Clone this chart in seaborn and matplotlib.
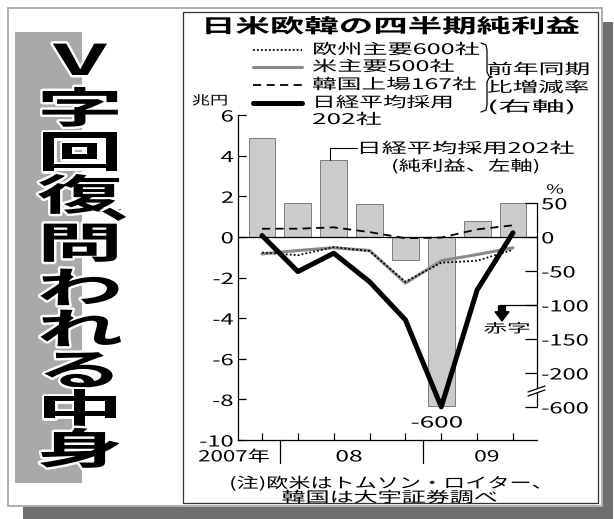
import numpy as np
import matplotlib
matplotlib.use("Agg")
import matplotlib.pyplot as plt
import seaborn as sns
from matplotlib.patches import Rectangle
from matplotlib.patheffects import AbstractPathEffect
from matplotlib.transforms import Affine2D

# 四半期（2007年10-12月期〜09年7-9月期）
QUARTERS = ["07/4Q", "08/1Q", "08/2Q", "08/3Q", "08/4Q", "09/1Q", "09/2Q", "09/3Q"]
# 日経平均採用202社の純利益（兆円、左軸）
PROFIT = [4.85, 1.67, 3.78, 1.6, -1.12, -8.35, 0.8, 1.68]
# 前年同期比増減率（%、右軸）
RATE_EU = [-23, -27, -15, -21, -66, -38, -35, -19]
RATE_US = [-25, -20, -16, -20, -68, -35, -26, -16]
RATE_KR = [12, 12, 14, 7, -2, -1, 11, 17]
RATE_NK = [2, -51, -24, -66, -122, -600, -78, 6]

LEFT_TICKS = [6, 4, 2, 0, -2, -4, -6, -8, -10]
RIGHT_TICKS = [50, 0, -50, -100, -150, -200, -600]
YEARS = ["2007年", "08", "09"]

TITLE = "日米欧韓の四半期純利益"
HEADLINE = "V字回復問われる中身"
LEGEND = ["欧州主要600社", "米主要500社", "韓国上場167社", "日経平均採用"]

W, H = 614, 519

# 右軸: -200%までは等間隔、-200〜-600は圧縮（軸の省略）
K1 = 29.85
K2 = 239.5


def pct_to_left(p):
    p = np.asarray(p, dtype=float)
    return np.where(p >= -200, p / K1, -200 / K1 + (p + 200) / K2)


def left_to_pct(v):
    v = np.asarray(v, dtype=float)
    vb = -200 / K1
    return np.where(v >= vb, v * K1, -200 + (v - vb) * K2)


class Hiratai(AbstractPathEffect):
    """平体（横長の文字）にする"""

    def __init__(self, text, sx=None, width=None, sy=1.0, halo=None, halo_lw=0):
        super().__init__()
        self.text = text
        self.sx = sx
        self.sy = sy
        self.width = width
        self.halo = halo
        self.halo_lw = halo_lw

    def draw_path(self, renderer, gc, tpath, affine, rgbFace=None):
        x0, y0 = self.text.get_transform().transform(self.text.get_unitless_position())
        sx = self.sx
        if self.width is not None:
            w = tpath.get_extents(affine).width
            sx = self.width / w if w > 0 else 1.0
        aff = affine + Affine2D().translate(-x0, -y0).scale(sx, self.sy).translate(x0, y0)
        if self.halo is not None:
            gc0 = renderer.new_gc()
            gc0.copy_properties(gc)
            gc0.set_foreground(self.halo)
            gc0.set_linewidth(self.halo_lw)
            gc0.set_joinstyle("round")
            renderer.draw_path(gc0, tpath, aff, None)
            gc0.restore()
        renderer.draw_path(gc, tpath, aff, rgbFace)


def flat(t, sx=None, width=None, **kw):
    t.set_path_effects([Hiratai(t, sx=sx, width=width, **kw)])
    return t


def txt(ax, x, y, s, size, width=None, sx=None, **kw):
    kw.setdefault("ha", "left")
    kw.setdefault("va", "center")
    t = ax.text(x, y, s, fontsize=size, **kw)
    return flat(t, sx=sx, width=width)


sns.set_theme(style="ticks", rc={"axes.edgecolor": "black", "xtick.color": "black",
                                 "ytick.color": "black", "text.color": "black",
                                 "axes.linewidth": 0.9})
plt.rcParams["font.family"] = ["Noto Sans CJK JP", "DejaVu Sans"]

STYLE_EU = dict(color="black", lw=1.3, ls=(0, (1, 1.2)))
STYLE_US = dict(color="#8a8a8a", lw=2.2, ls="-")
STYLE_KR = dict(color="black", lw=1.3, ls=(0, (4.5, 3)))
STYLE_NK = dict(color="black", lw=3.6, ls="-")

fig = plt.figure(figsize=(W / 100, H / 100), dpi=100)
fig.patch.set_facecolor("white")

# 背景（枠・影・見出しの帯）
bg = fig.add_axes([0, 0, 1, 1], zorder=0)
bg.set_xlim(0, W)
bg.set_ylim(H, 0)
bg.axis("off")
bg.add_patch(Rectangle((603, 22), 10, 497, color="#6f6f6f", lw=0))
bg.add_patch(Rectangle((23, 507), 590, 12, color="#6f6f6f", lw=0))
bg.add_patch(Rectangle((8, 8), 594, 498, fill=False, ec="#a8a8a8", lw=1.3))
bg.add_patch(Rectangle((183, 12), 415, 491, fill=False, ec="#333333", lw=0.9))
bg.add_patch(Rectangle((15, 32), 67, 451, color="#a9a9a9", lw=0))

# グラフ本体
ax = fig.add_axes([238 / W, 1 - 440 / H, (537 - 238) / W, (440 - 115) / H], zorder=2)
ax.patch.set_visible(False)
sns.barplot(x=QUARTERS, y=PROFIT, color="#cbcbcb", edgecolor="#7c7c7c", linewidth=0.7,
            width=0.75, saturation=1, ax=ax, zorder=1)
ax.axhline(0, color="black", lw=0.9, zorder=3)
ax.plot([1.9, 1.9, 2.65], [PROFIT[2], 4.38, 4.38], color="black", lw=0.8)
ax.set_xlim(-0.67, 7.67)
ax.set_ylim(-10, 6)
ax.set_xticks(range(len(QUARTERS)), [""] * len(QUARTERS))
ax.set_yticks(LEFT_TICKS, [str(v) for v in LEFT_TICKS])
ax.tick_params(axis="x", direction="in", length=5, width=0.9)
ax.tick_params(axis="y", direction="in", length=6, width=0.9, labelsize=11, pad=3)
for s in ("top", "right"):
    ax.spines[s].set_visible(False)
ax.set_xlabel("")
ax.set_ylabel("")

# 年の区切りとラベル
xt = ax.get_xaxis_transform()
for xd in (0.5, 4.5):
    ax.plot([xd, xd], [0, -0.071], transform=xt, color="black", lw=0.9, clip_on=False)
txt(ax, 0.22, -0.052, YEARS[0], 11, width=70, ha="right", transform=xt)
txt(ax, 2.43, -0.052, YEARS[1], 11, width=25, ha="center", transform=xt)
txt(ax, 6.27, -0.052, YEARS[2], 11, width=23, ha="center", transform=xt)

# 増減率（右軸）
pos = np.arange(len(QUARTERS))
ax2 = ax.twinx()
ax2.set_yscale("function", functions=(pct_to_left, left_to_pct))
sns.lineplot(x=pos, y=RATE_US, ax=ax2, zorder=2, **STYLE_US)
sns.lineplot(x=pos, y=RATE_EU, ax=ax2, zorder=3, **STYLE_EU)
sns.lineplot(x=pos, y=RATE_KR, ax=ax2, zorder=3, **STYLE_KR)
sns.lineplot(x=pos, y=RATE_NK, ax=ax2, zorder=4, **STYLE_NK)
ax2.set_ylim(float(left_to_pct(-10)), float(left_to_pct(6)))
ax2.set_xlim(-0.67, 7.67)
ax2.set_yticks(RIGHT_TICKS, [str(v) for v in RIGHT_TICKS])
ax2.tick_params(axis="y", direction="in", length=9, width=0.9, labelsize=11, pad=3)
ax2.spines["right"].set_bounds(-600, 50)
for s in ("top", "left", "bottom"):
    ax2.spines[s].set_visible(False)
ax2.set_ylabel("")
ax2.plot([0.876, 1.0], [-100, -100], transform=ax2.get_yaxis_transform(),
         color="black", lw=0.9, clip_on=False)

for lbl in ax.get_yticklabels() + ax2.get_yticklabels():
    flat(lbl, sx=1.55)

# 前面（タイトル・凡例・注記）
fg = fig.add_axes([0, 0, 1, 1], zorder=5)
fg.set_xlim(0, W)
fg.set_ylim(H, 0)
fg.axis("off")

# 軸の省略記号
fg.fill([528, 545, 545, 528], [392, 386, 390, 396], color="white", lw=0)
fg.plot([528, 545], [392, 386], color="black", lw=0.9)
fg.plot([528, 545], [396, 390], color="black", lw=0.9)

txt(fg, 391, 27, TITLE, 14, width=373, ha="center", fontweight="bold")

ys = [50, 67, 85, 103]
widths = [165, 141, 163, 135]
for y, s, w, st in zip(ys, LEGEND, widths, (STYLE_EU, STYLE_US, STYLE_KR, STYLE_NK)):
    fg.plot([253, 302], [y, y], **st)
    txt(fg, 312, y, s, 10.5, width=w)
txt(fg, 312, 120, "202社", 10.5, width=68)
fg.plot([481, 486, 487, 487, 489, 492, 489, 487, 487, 486, 481],
        [43, 45, 50, 72, 76, 77, 78, 82, 105, 110, 112], color="black", lw=0.9)
txt(fg, 487, 70, "前年同期", 10.5, width=100)
txt(fg, 487, 88, "比増減率", 10.5, width=100)
txt(fg, 487, 107, "(右軸)", 10.5, width=83)

txt(fg, 210, 101, "兆円", 9, width=34, ha="center")
txt(fg, 555, 190, "%", 9, width=16, ha="center")

txt(fg, 466, 149, "日経平均採用202社", 10.5, width=213, ha="center")
txt(fg, 466, 166, "(純利益、左軸)", 10.5, width=145, ha="center")

txt(fg, 437, 423, "-600", 11, width=50, ha="center")
fg.annotate("", xy=(502, 321), xytext=(502, 306),
            arrowprops=dict(arrowstyle="simple,head_width=0.9,head_length=0.6,tail_width=0.45",
                            color="black", mutation_scale=11, shrinkA=0, shrinkB=0))
txt(fg, 507, 329, "赤字", 9, width=45, ha="center")

txt(fg, 392, 483, "(注)欧米はトムソン・ロイター、", 10.5, width=308, ha="center")
txt(fg, 390, 498, "韓国は大宇証券調べ", 10.5, width=214, ha="center")

# 縦見出し
head_y = [62, 110, 154, 197, 245, 290, 331, 372, 412, 451]
for ch, y in zip(HEADLINE, head_y):
    t = fg.text(80, y, ch, fontsize=27, fontweight="bold", ha="center", va="center")
    flat(t, sx=2.3, sy=1.13, halo="white", halo_lw=3.5)
t = fg.text(99, 218, "、", fontsize=27, fontweight="bold", ha="left", va="baseline")
flat(t, sx=2.0, sy=1.13, halo="white", halo_lw=3.5)

fig.savefig("out.png", dpi=100)
